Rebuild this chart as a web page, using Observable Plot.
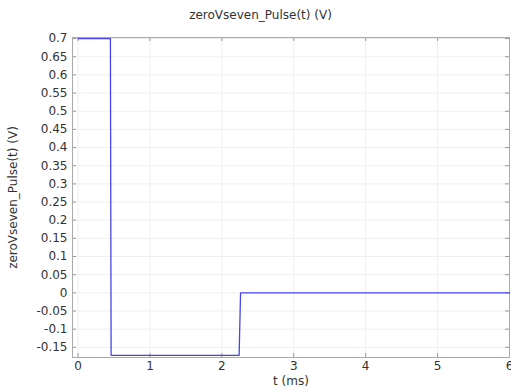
<!DOCTYPE html>
<html>
<head>
<meta charset="utf-8">
<script src="https://cdn.jsdelivr.net/npm/d3@7"></script>
<script src="https://cdn.jsdelivr.net/npm/@observablehq/plot@0.6"></script>
<style>
  html, body { margin: 0; padding: 0; background: #fff; }
  #title { width: 511px; height: 26px; box-sizing: border-box; padding-top: 8px; padding-left: 10px; text-align: center; font: 12px "DejaVu Sans", sans-serif; line-height: 14px; color: #333; }
  svg { display: block; }
</style>
</head>
<body>
<div id="title">zeroVseven_Pulse(t) (V)</div>
<div id="chart"></div>
<script>
const tMs = [0, 0.45, 0.46, 2.24, 2.26, 6];
const pulseV = [0.7, 0.7, -0.172, -0.172, 0, 0];
const xTicks = [0, 1, 2, 3, 4, 5, 6];
const yTicks = [-0.15, -0.1, -0.05, 0, 0.05, 0.1, 0.15, 0.2, 0.25, 0.3, 0.35, 0.4, 0.45, 0.5, 0.55, 0.6, 0.65, 0.7];
const xDomain = [-0.077, 6];
const yDomain = [-0.178, 0.703];

const data = tMs.map((t, i) => ({t, v: pulseV[i]}));
const fmt = d => String(+d.toFixed(2));

const W = 511, H = 364;
const ml = 72, mr = 2, mt = 11, mb = 33;
const fw = W - ml - mr, fh = H - mt - mb;
const tick = 4;

const chart = Plot.plot({
  width: W, height: H,
  marginLeft: ml, marginRight: mr, marginTop: mt, marginBottom: mb,
  style: {fontFamily: "DejaVu Sans, sans-serif", fontSize: "12px", color: "#333", background: "#fff"},
  x: {domain: xDomain},
  y: {domain: yDomain},
  marks: [
    Plot.ruleX(xTicks, {x: d => d, stroke: "#efefef", strokeWidth: 1}),
    Plot.ruleY(yTicks, {y: d => d, stroke: "#efefef", strokeWidth: 1}),
    Plot.tickY(yTicks, {y: d => d, insetRight: fw - tick, stroke: "#999"}),
    Plot.tickY(yTicks, {y: d => d, insetLeft: fw - tick, stroke: "#999"}),
    Plot.tickX(xTicks, {x: d => d, insetTop: fh - tick, stroke: "#999"}),
    Plot.tickX(xTicks, {x: d => d, insetBottom: fh - tick, stroke: "#999"}),
    Plot.frame({stroke: "#aaa"}),
    Plot.axisY(yTicks, {tickSize: 0, tickPadding: 5, tickFormat: fmt, label: "zeroVseven_Pulse(t) (V)", labelAnchor: "center", labelArrow: "none", labelOffset: 64, fill: "#333"}),
    Plot.axisX(xTicks, {tickSize: 0, tickPadding: 4, tickFormat: fmt, label: "t (ms)", labelAnchor: "center", labelArrow: "none", labelOffset: 27, fill: "#333"}),
    Plot.line(data, {x: "t", y: "v", stroke: "#4545ee", strokeWidth: 1.3})
  ]
});
document.getElementById("chart").appendChild(chart);
</script>
</body>
</html>
